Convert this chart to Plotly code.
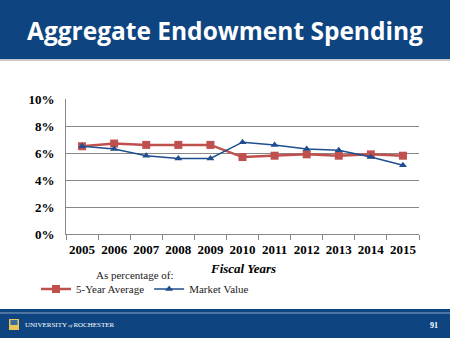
import plotly.graph_objects as go

years = ["2005", "2006", "2007", "2008", "2009", "2010", "2011", "2012", "2013", "2014", "2015"]
five_year_avg = [6.5, 6.7, 6.6, 6.6, 6.6, 5.7, 5.8, 5.9, 5.8, 5.9, 5.8]
market_value = [6.5, 6.3, 5.8, 5.6, 5.6, 6.8, 6.6, 6.3, 6.2, 5.7, 5.1]
y_ticks = [0, 2, 4, 6, 8, 10]
y_tick_labels = ["0%", "2%", "4%", "6%", "8%", "10%"]

W, H = 450, 338
L, R, T, B = 66, 419, 99, 234
pw, ph = R - L, B - T

def px(x):
    return (x - L) / pw

def py(y):
    return (B - y) / ph

NAVY = "#0E4581"
RED = "#C0504D"
BLUE = "#1F4E8F"
SERIF = "Liberation Serif"

fig = go.Figure()
fig.add_trace(go.Scatter(
    x=years, y=five_year_avg, name="5-Year Average", mode="lines+markers",
    line=dict(color=RED, width=2.5), marker=dict(symbol="square", size=8, color=RED),
))
fig.add_trace(go.Scatter(
    x=years, y=market_value, name="Market Value", mode="lines+markers",
    line=dict(color=BLUE, width=1.5), marker=dict(symbol="triangle-up", size=7, color=BLUE),
))

shapes = [
    # header band
    dict(type="rect", xref="paper", yref="paper", x0=px(0), x1=px(W), y0=py(0), y1=py(59),
         fillcolor=NAVY, line=dict(width=0), layer="below"),
    dict(type="rect", xref="paper", yref="paper", x0=px(0), x1=px(W), y0=py(59), y1=py(61),
         fillcolor="#C8C8C8", line=dict(width=0), layer="below"),
    # footer band
    dict(type="rect", xref="paper", yref="paper", x0=px(0), x1=px(W), y0=py(309), y1=py(H),
         fillcolor=NAVY, line=dict(width=0), layer="below"),
    dict(type="line", xref="paper", yref="paper", x0=px(0), x1=px(W), y0=py(313), y1=py(313),
         line=dict(color="#8FA8C8", width=1), layer="below"),
    # logo shield
    dict(type="rect", xref="paper", yref="paper", x0=px(9), x1=px(19), y0=py(319), y1=py(330),
         fillcolor="#E8C65A", line=dict(width=0), layer="below"),
    dict(type="rect", xref="paper", yref="paper", x0=px(10.5), x1=px(17.5), y0=py(320), y1=py(325),
         fillcolor="#3D6B9E", line=dict(width=0), layer="below"),
]

annotations = [
    dict(text="<b>Aggregate Endowment Spending</b>", xref="paper", yref="paper",
         x=px(225), y=py(31), xanchor="center", yanchor="middle", showarrow=False,
         font=dict(family="Open Sans", size=24.5, color="white")),
    dict(text="<b><i>Fiscal Years</i></b>", xref="paper", yref="paper",
         x=px(242.5), y=py(268), xanchor="center", yanchor="middle", showarrow=False,
         font=dict(family=SERIF, size=13, color="black")),
    dict(text="As percentage of:", xref="paper", yref="paper",
         x=px(135), y=py(275), xanchor="center", yanchor="middle", showarrow=False,
         font=dict(family=SERIF, size=11, color="#222")),
    dict(text="UNIVERSITY<i><span style='font-size:5px'> of </span></i>ROCHESTER", xref="paper", yref="paper",
         x=px(23), y=py(325), xanchor="left", yanchor="middle", showarrow=False,
         font=dict(family=SERIF, size=7, color="white")),
    dict(text="<b>91</b>", xref="paper", yref="paper",
         x=px(434), y=py(325), xanchor="center", yanchor="middle", showarrow=False,
         font=dict(family=SERIF, size=8, color="white")),
]

fig.update_layout(
    width=W, height=H,
    margin=dict(l=L, r=W - R, t=T, b=H - B, pad=0),
    paper_bgcolor="white", plot_bgcolor="white",
    shapes=shapes, annotations=annotations,
    showlegend=True,
    legend=dict(orientation="h", xref="container", yref="container",
                x=36 / W, y=1 - 289 / H, xanchor="left", yanchor="middle",
                font=dict(family=SERIF, size=11, color="#222"),
                itemwidth=30, tracegroupgap=0, entrywidth=0, bgcolor="rgba(0,0,0,0)"),
    xaxis=dict(type="category", tickson="boundaries", ticks="outside", ticklen=5,
               tickcolor="#888", showline=True, linecolor="#888", linewidth=1,
               showgrid=False, range=[-0.5, 10.5], tickangle=0, automargin=False,
               ticklabelstandoff=3,
               tickfont=dict(family=SERIF, size=13, color="black"),
               tickprefix="<b>", ticksuffix="</b>"),
    yaxis=dict(range=[0, 10], tickvals=y_ticks, ticktext=["<b>%s</b>" % t for t in y_tick_labels],
               showgrid=True, gridcolor="#888", gridwidth=1, showline=True, linecolor="#888",
               zeroline=False, ticks="", ticklen=0, ticklabelstandoff=8, automargin=False,
               tickfont=dict(family=SERIF, size=13, color="black")),
)

fig.write_html("out.html")
